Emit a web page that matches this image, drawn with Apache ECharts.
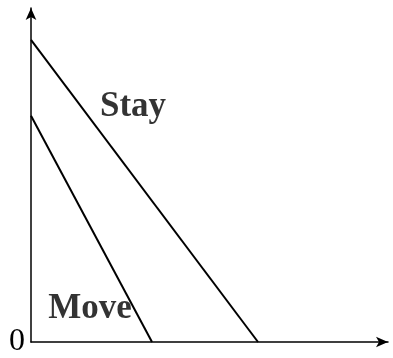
<!DOCTYPE html>
<html>
<head>
<meta charset="utf-8">
<script src="https://cdn.jsdelivr.net/npm/echarts@6/dist/echarts.min.js"></script>
<style>html,body{margin:0;padding:0;background:#fff}#c{width:393px;height:358px}</style>
</head>
<body>
<div id="c"></div>
<script>
// Data (abstract units)
const xMax = 35.7;
const yMax = 33.5;
const stayLine = [[0, 30.3], [22.7, 0]];
const moveLine = [[0, 22.7], [12.1, 0]];
const labelNames = ['Stay', 'Move'];
const labelPositions = [[10.2, 23.6], [5.9, 3.3]];
const yTickLabels = ['0'];

const chart = echarts.init(document.getElementById('c'));
const serif = '"Liberation Serif", "DejaVu Serif", serif';
const axisLine = {
  show: true, symbol: ['none', 'arrow'], symbolSize: [8, 12],
  lineStyle: { color: '#000', width: 1.5 }
};
chart.setOption({
  animation: false,
  backgroundColor: '#fff',
  grid: { left: 31, right: 5, top: 8, bottom: 15 },
  xAxis: {
    type: 'value', min: 0, max: xMax,
    axisLine: axisLine, axisTick: { show: false },
    axisLabel: { show: false }, splitLine: { show: false }
  },
  yAxis: {
    type: 'value', min: 0, max: yMax, interval: 1,
    axisLine: axisLine, axisTick: { show: false },
    splitLine: { show: false },
    axisLabel: {
      margin: 6, fontFamily: serif, fontSize: 32, color: '#000',
      showMaxLabel: false, padding: [0, 0, 4, 0],
      formatter: v => (v === 0 ? yTickLabels[0] : '')
    }
  },
  series: [
    { type: 'line', data: stayLine, symbol: 'none', lineStyle: { color: '#000', width: 2 } },
    { type: 'line', data: moveLine, symbol: 'none', lineStyle: { color: '#000', width: 2 } },
    {
      type: 'scatter', symbolSize: 0,
      data: labelPositions.map((p, i) => ({ value: p, name: labelNames[i] })),
      label: {
        show: true, position: 'inside', formatter: p => p.name,
        fontFamily: serif, fontWeight: 'bold', fontSize: 35, color: '#000'
      }
    }
  ]
});
</script>
</body>
</html>
